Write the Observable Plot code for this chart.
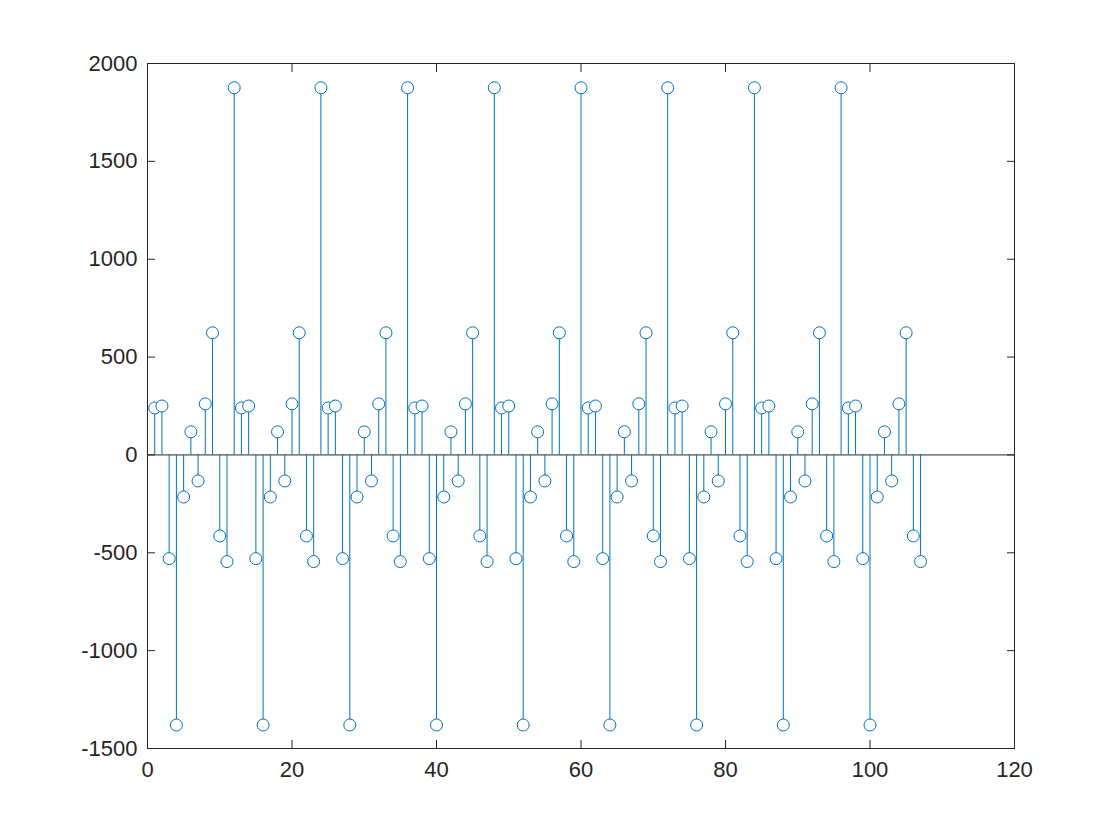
<!DOCTYPE html>
<html>
<head>
<meta charset="utf-8">
<script src="https://cdn.jsdelivr.net/npm/d3@7"></script>
<script src="https://cdn.jsdelivr.net/npm/@observablehq/plot@0.6"></script>
<style>
  html, body { margin: 0; padding: 0; background: #fff; }
  #chart { width: 1120px; height: 840px; }
</style>
</head>
<body>
<div id="chart"></div>
<script>
// Stem values for n = 1..107
const values = [
  240, 250, -530, -1380, -215, 118, -133, 261, 624, -414, -545, 1876,
  240, 250, -530, -1380, -215, 118, -133, 261, 624, -414, -545, 1876,
  240, 250, -530, -1380, -215, 118, -133, 261, 624, -414, -545, 1876,
  240, 250, -530, -1380, -215, 118, -133, 261, 624, -414, -545, 1876,
  240, 250, -530, -1380, -215, 118, -133, 261, 624, -414, -545, 1876,
  240, 250, -530, -1380, -215, 118, -133, 261, 624, -414, -545, 1876,
  240, 250, -530, -1380, -215, 118, -133, 261, 624, -414, -545, 1876,
  240, 250, -530, -1380, -215, 118, -133, 261, 624, -414, -545, 1876,
  240, 250, -530, -1380, -215, 118, -133, 261, 624, -414, -545
];
const xTicks = [0, 20, 40, 60, 80, 100, 120];
const yTicks = [-1500, -1000, -500, 0, 500, 1000, 1500, 2000];

const data = values.map((v, i) => ({n: i + 1, v}));
const blue = "#0072BD";
const ink = "#262626";
const fmt = d => String(d);

const chart = Plot.plot({
  width: 1120,
  height: 840,
  marginLeft: 147,
  marginRight: 106,
  marginTop: 63,
  marginBottom: 92,
  style: {fontFamily: "Liberation Sans, Arial, sans-serif", fontSize: "22px", color: ink, background: "#fff"},
  x: {domain: [0, 120]},
  y: {domain: [-1500, 2000]},
  marks: [
    Plot.ruleY([0], {stroke: ink, strokeWidth: 1}),
    Plot.ruleX(data, {x: "n", y1: 0, y2: "v", stroke: blue, strokeWidth: 1}),
    Plot.dot(data, {x: "n", y: "v", r: 6, stroke: blue, fill: "white", strokeWidth: 1}),
    Plot.frame({stroke: ink, strokeWidth: 1}),
    Plot.axisX({anchor: "bottom", ticks: xTicks, tickFormat: fmt, tickSize: -8, tickPadding: 21, fontSize: 22, label: null}),
    Plot.axisX({anchor: "top", ticks: xTicks, tickSize: -8, tickFormat: () => "", label: null}),
    Plot.axisY({anchor: "left", ticks: yTicks, tickFormat: fmt, tickSize: -8, tickPadding: 18, fontSize: 22, label: null}),
    Plot.axisY({anchor: "right", ticks: yTicks, tickSize: -8, tickFormat: () => "", label: null})
  ]
});
document.getElementById("chart").appendChild(chart);
</script>
</body>
</html>
